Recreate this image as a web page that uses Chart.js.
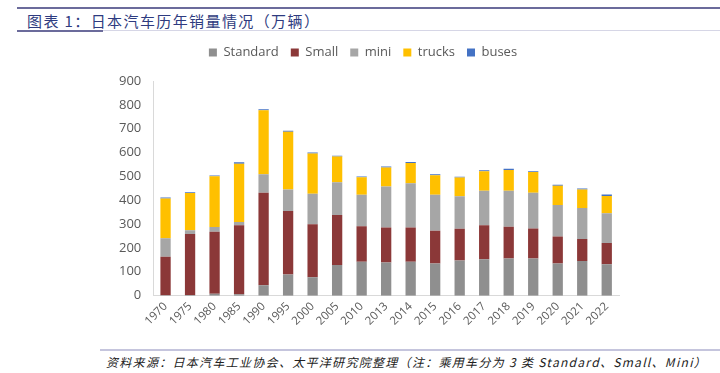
<!DOCTYPE html>
<html>
<head>
<meta charset="utf-8">
<script src="https://cdn.jsdelivr.net/npm/chart.js@4"></script>
<style>
  body { margin: 0; background: #fff; width: 720px; height: 373px; overflow: hidden; position: relative; font-family: "Noto Sans CJK SC", sans-serif; }
  #topline { position: absolute; left: 17px; right: 0; top: 7px; height: 2px; background: #6b6b9b; }
  #title { position: absolute; left: 27px; top: 10px; font-size: 15px; color: #2e3b80; letter-spacing: 1.4px; }
  #subline { position: absolute; left: 17px; right: 0; top: 30px; height: 1px; background: #d6d6e6; }
  #subline2 { position: absolute; left: 17px; width: 86px; top: 30px; height: 2px; background: #6b6b9b; }
  #footline { position: absolute; left: 100px; right: 0; top: 349px; height: 2px; background: #c5c5dd; }
  #source { position: absolute; left: 106px; top: 353px; font-size: 12px; font-style: italic; color: #222; letter-spacing: 1.3px; white-space: nowrap; }
  #wrap { position: absolute; left: 0; top: 34px; width: 720px; height: 298px; }
</style>
</head>
<body>
<div id="topline"></div>
<div id="title">图表 1：日本汽车历年销量情况（万辆）</div>
<div id="subline"></div>
<div id="subline2"></div>
<div id="wrap"><canvas id="myChart"></canvas></div>
<div id="footline"></div>
<div id="source">资料来源：日本汽车工业协会、太平洋研究院整理（注：乘用车分为 3 类 Standard、Small、Mini）</div>
<script>
var years = ["1970","1975","1980","1985","1990","1995","2000","2005","2010","2013","2014","2015","2016","2017","2018","2019","2020","2021","2022"];
var standard = [2, 3, 8, 6, 44, 89, 77, 128, 142, 139, 142, 135, 147, 153, 156, 156, 135, 145, 132];
var small = [161, 255, 260, 289, 387, 266, 222, 210, 149, 147, 144, 137, 134, 142, 133, 126, 113, 93, 89];
var mini = [78, 16, 20, 14, 78, 90, 128, 137, 132, 172, 185, 151, 136, 145, 151, 149, 132, 129, 125];
var trucks = [166, 156, 213, 244, 268, 242, 169, 108, 73, 79, 85, 82, 78, 82, 87, 87, 81, 78, 72];
var buses = [4, 4, 3, 6, 5, 4, 4, 4, 4, 5, 4, 4, 4, 4, 5, 4, 4, 4, 6];
var yTicks = [0, 100, 200, 300, 400, 500, 600, 700, 800, 900];

var ctx = document.getElementById("myChart").getContext("2d");

function ds(label, data, color){
    return { label: label, data: data, backgroundColor: color, borderWidth: 0,
             categoryPercentage: 1.0, barPercentage: 0.42 };
}

// push the plot down a bit below the legend
var legendGap = {
    id: 'legendGap',
    beforeInit: function(chart){
        var fit = chart.legend.fit;
        chart.legend.fit = function(){
            fit.bind(chart.legend)();
            this.height += 12;
        };
    }
};

var myChart = new Chart(ctx, {
    type: 'bar',
    data: {
        labels: years,
        datasets: [
            ds('Standard', standard, '#8f8f8f'),
            ds('Small', small, '#8b3838'),
            ds('mini', mini, '#a6a6a6'),
            ds('trucks', trucks, '#ffc000'),
            ds('buses', buses, '#4472c4')
        ]
    },
    plugins: [legendGap],
    options: {
        responsive: true,
        maintainAspectRatio: false,
        animation: false,
        layout: { padding: { left: 107, right: 101, top: 0, bottom: 0 } },
        plugins: {
            legend: {
                position: 'top',
                labels: { boxWidth: 8, boxHeight: 8, padding: 12, color: '#595959',
                          font: { family: "'Open Sans', sans-serif", size: 13 } }
            },
            tooltip: { enabled: false }
        },
        scales: {
            x: {
                stacked: true,
                grid: { display: false, drawTicks: false },
                border: { color: '#d9d9d9' },
                ticks: { color: '#595959', autoSkip: false, maxRotation: 45, minRotation: 45, padding: 4,
                         font: { family: "'Open Sans', sans-serif", size: 11.5 } }
            },
            y: {
                stacked: true,
                min: 0, max: 900,
                afterBuildTicks: function(axis){ axis.ticks = yTicks.map(function(v){ return { value: v }; }); },
                grid: { display: false, drawTicks: false },
                border: { color: '#d9d9d9' },
                ticks: { color: '#595959', padding: 12,
                         font: { family: "'Open Sans', sans-serif", size: 13 } }
            }
        }
    }
});
</script>
</body>
</html>
